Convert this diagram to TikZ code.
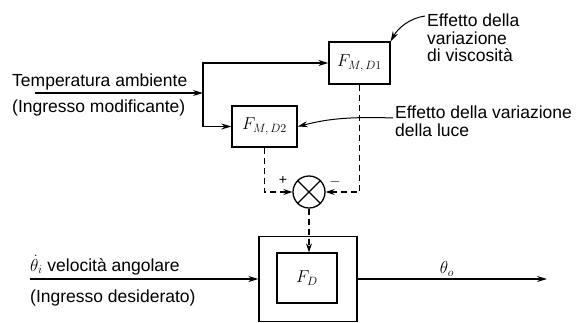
\documentclass[tikz,border=0pt]{standalone}
\usepackage{fontspec}
\setmainfont{Liberation Sans}
\usetikzlibrary{arrows.meta,calc}
\begin{document}
\begin{tikzpicture}[x=1pt,y=-1pt,
  txt/.style={inner sep=0pt, font=\fontsize{17.5}{17.5}\selectfont},
  blk/.style={draw, line width=1.3pt, inner sep=0pt, font=\fontsize{18}{18}\selectfont},
  ln/.style={line width=1.3pt},
  arr/.style={ln, -{Stealth[length=10pt,width=6pt]}},
  dsh/.style={line width=1.2pt, dash pattern=on 6pt off 4pt, -{Stealth[length=9pt,width=6pt]}},
  ann/.style={line width=1pt, -{Stealth[length=10pt,width=6pt]}}]
\useasboundingbox (0,0) rectangle (587,322);
% blocks
\node[blk, minimum width=61pt, minimum height=42pt] (d1) at (359.5,63) {$F_{M,\,D1}$};
\node[blk, minimum width=65pt, minimum height=41pt] (d2) at (264.5,126.5) {$F_{M,\,D2}$};
\node[draw, circle, line width=1.3pt, minimum size=32pt, inner sep=0pt] (s) at (309,192) {};
\draw[ln] (s.45) -- (s.225) (s.135) -- (s.315);
\node[blk, minimum width=98pt, minimum height=85pt] (fo) at (308,279) {};
\node[blk, minimum width=60pt, minimum height=50pt] (fi) at (307,278) {$F_D$};
% modifying input
\coordinate (tin) at (35,93);
\coordinate (j) at (203,93);
\draw[arr] (tin) -- (j);
\draw[arr] (j) |- (d1.west);
\draw[arr] (j) |- (d2.west);
\node[txt, anchor=base west] (t1) at (12,86) {Temperatura ambiente};
\node[txt, anchor=base west] (t2) at (12,112) {(Ingresso modificante)};
% dashed
\draw[dsh] (d2.south) |- (s.west);
\draw[dsh] (d1.south) |- (s.east);
\draw[dsh] (s.south) -- (s.south |- fi.north);
\node[font=\fontsize{14}{14}\selectfont, inner sep=0pt] (plus) at (283,180) {+};
\node[font=\fontsize{14}{14}\selectfont, inner sep=0pt] (minus) at (335,182) {$-$};
% main input / output
\coordinate (in) at (30,279);
\coordinate (out) at (547,279);
\draw[arr] (in) -- (fo.west);
\draw[arr] (fo.east) -- (out);
\node[txt, anchor=base west] (t3) at (30,271) {$\dot\theta_i$ velocità angolare};
\node[txt, anchor=base west] (t4) at (30,302) {(Ingresso desiderato)};
\node[font=\fontsize{18}{18}\selectfont, inner sep=0pt] (th) at (447,269) {$\theta_o$};
% annotations
\node[txt, anchor=north west, align=left] (a1) at (427,14) {Effetto della\\variazione\\di viscosità};
\node[txt, anchor=north west, align=left] (a2) at (395,106) {Effetto della variazione\\della luce};
\draw[ann] ($(a1.north west)+(-2,2)$) .. controls (410,18) and (398,28) .. (d1.north east);
\draw[ann] ($(a2.north west)+(-2,12)$) .. controls (340,116) and (320,121) .. (d2.east);
\end{tikzpicture}
\end{document}
